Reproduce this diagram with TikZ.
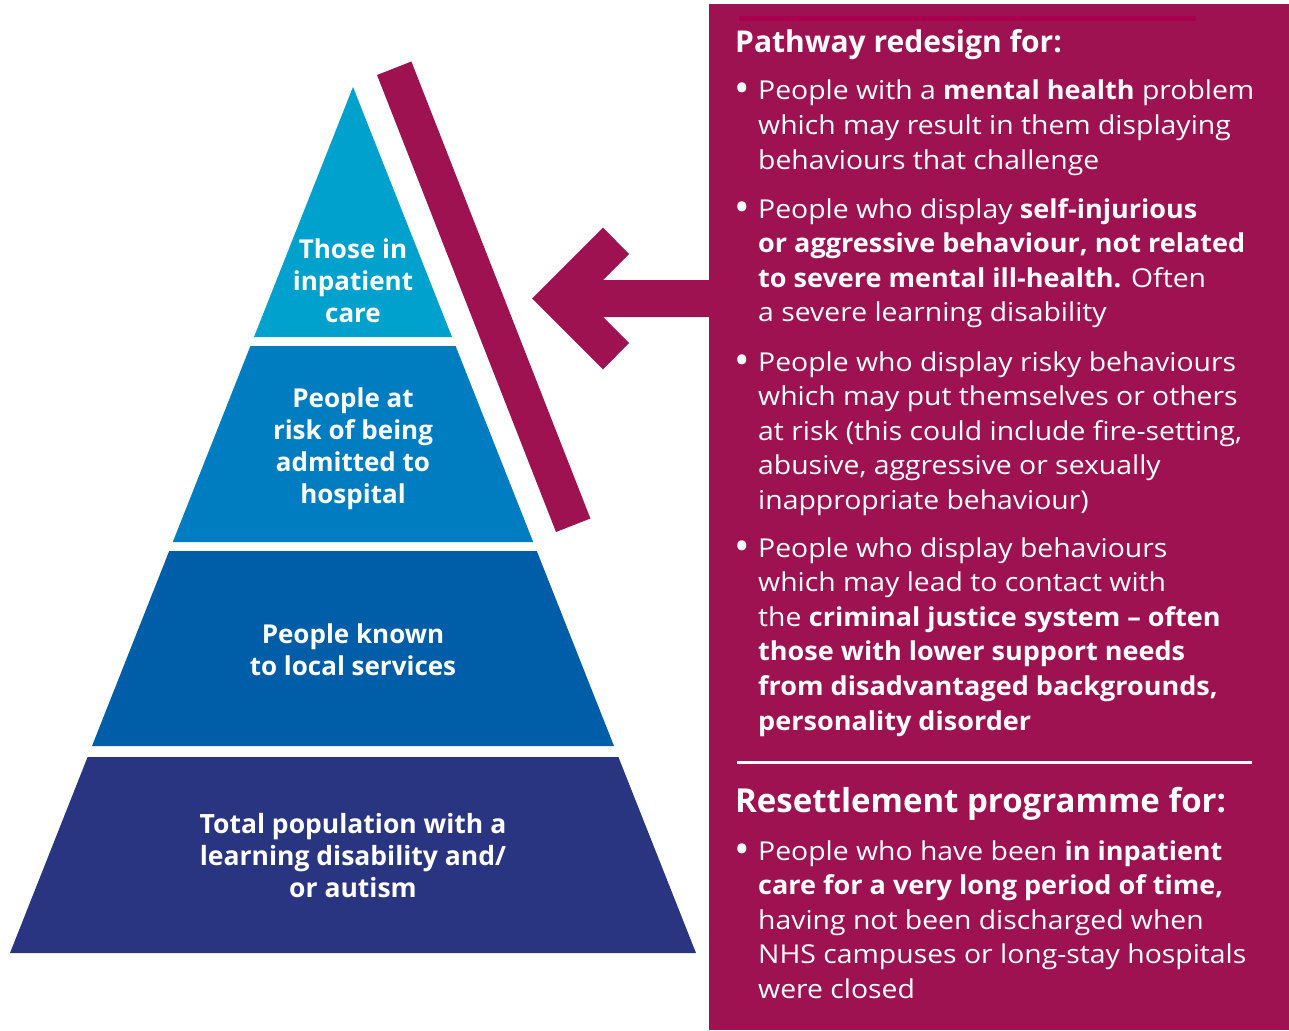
\documentclass[tikz,border=0pt]{standalone}
\usepackage{fontspec}
\setmainfont{Open Sans}
\newfontfamily\bodyfont{Open Sans}[UprightFeatures={FakeStretch=1.09}, BoldFeatures={FakeStretch=1.04}]
\definecolor{tierA}{RGB}{0,162,205}
\definecolor{tierB}{RGB}{0,124,192}
\definecolor{tierC}{RGB}{0,94,168}
\definecolor{tierD}{RGB}{41,53,128}
\definecolor{mag}{RGB}{158,18,82}
\definecolor{darkmag}{RGB}{168,0,74}
\tikzset{
  pyrtext/.style={anchor=base, inner sep=0pt, text=white, font=\bfseries\fontsize{26}{32}\selectfont},
  bodytext/.style={anchor=base west, inner sep=0pt, text=white, font=\bodyfont\fontsize{26}{34.6}\selectfont},
  headtext/.style={anchor=base west, inner sep=0pt, text=white, font=\bfseries},
  bulletmark/.style={anchor=base, inner sep=0pt, text=white, font=\bfseries\fontsize{32}{34.6}\selectfont},
}
\begin{document}
\begin{tikzpicture}[x=1pt,y=-1pt]
\useasboundingbox (0,0) rectangle (1289,1030);
% pyramid tiers
\fill[tierA] (353,87) -- (452,337) -- (254,337) -- cycle;
\fill[tierB] (250.4,346) -- (455.6,346) -- (533.2,542) -- (172.8,542) -- cycle;
\fill[tierC] (169.2,551) -- (536.8,551) -- (614,746) -- (92,746) -- cycle;
\fill[tierD] (87.6,757) -- (618.4,757) -- (696,953) -- (10,953) -- cycle;
% diagonal bar
\fill[mag] (377,75) -- (411.4,61.5) -- (590.4,518.5) -- (556,532) -- cycle;
% arrow
\fill[mag] (712,280) -- (603,280) -- (629,254) -- (603,227.5) -- (532,298.5)
  -- (603,369.5) -- (629,343) -- (603,317) -- (712,317) -- cycle;
% panel
\fill[mag] (709,4) rectangle (1289,1030);
\fill[darkmag] (739,16) rectangle (1196,21);
\fill[white] (737,760.5) rectangle (1252,763.5);
% pyramid labels
\node[pyrtext] (t1) at (353,258) {\parbox[t]{300pt}{\centering Those in\\inpatient\\care}};
\node[pyrtext] (t2) at (353,407) {\parbox[t]{300pt}{\centering People at\\risk of being\\admitted to\\hospital}};
\node[pyrtext] (t3) at (353,643) {\parbox[t]{300pt}{\centering People known\\to local services}};
\node[pyrtext, font=\bfseries\fontsize{26.5}{32}\selectfont] (t4) at (353,833) {\parbox[t]{400pt}{\centering Total population with a\\learning disability and/\\or autism}};
% panel headings
\node[headtext, font=\bfseries\fontsize{30}{34}\selectfont] (h1) at (735,53) {Pathway redesign for:};
\node[headtext, font=\bfseries\fontsize{33}{40}\selectfont] (h2) at (735,812) {Resettlement programme for:};
% bullets
\node[bulletmark] (b1) at (742,100) {•};
\node[bulletmark] (b2) at (742,218) {•};
\node[bulletmark] (b3) at (742,371) {•};
\node[bulletmark] (b4) at (742,557) {•};
\node[bulletmark] (b5) at (742,860) {•};
\node[bodytext] (p1) at (758,100) {\parbox[t]{525pt}{\raggedright
People with a \textbf{mental health} problem\\
which may result in them displaying\\
behaviours that challenge}};
\node[bodytext] (p2) at (758,218) {\parbox[t]{525pt}{\raggedright
People who display \textbf{self-injurious}\\
\textbf{or aggressive behaviour, not related}\\
\textbf{to severe mental ill-health.} Often\\
a severe learning disability}};
\node[bodytext] (p3) at (758,371) {\parbox[t]{525pt}{\raggedright
People who display risky behaviours\\
which may put themselves or others\\
at risk (this could include fire-setting,\\
abusive, aggressive or sexually\\
inappropriate behaviour)}};
\node[bodytext] (p4) at (758,557) {\parbox[t]{525pt}{\raggedright
People who display behaviours\\
which may lead to contact with\\
the \textbf{criminal justice system – often}\\
\textbf{those with lower support needs}\\
\textbf{from disadvantaged backgrounds,}\\
\textbf{personality disorder}}};
\node[bodytext] (p5) at (758,860) {\parbox[t]{525pt}{\raggedright
People who have been \textbf{in inpatient}\\
\textbf{care for a very long period of time,}\\
having not been discharged when\\
NHS campuses or long-stay hospitals\\
were closed}};
\end{tikzpicture}
\end{document}
